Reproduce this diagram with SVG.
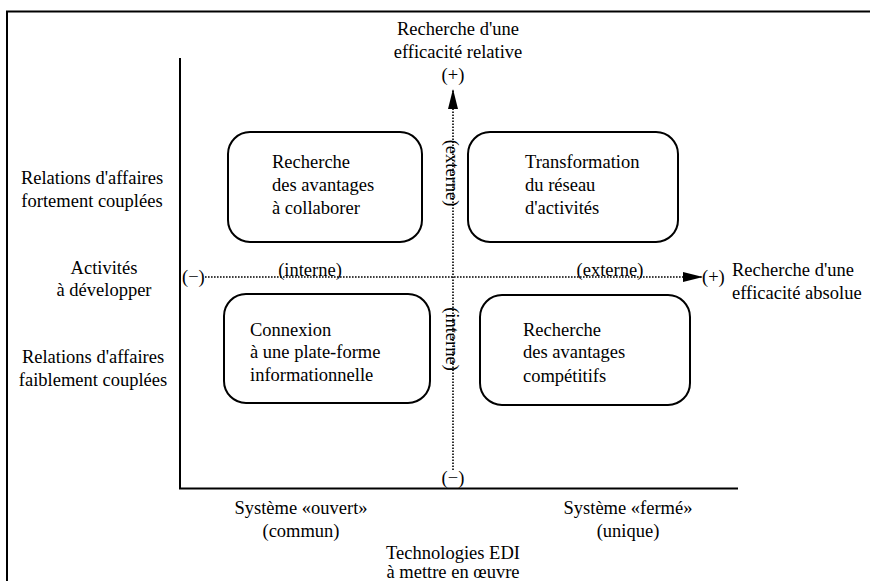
<svg xmlns="http://www.w3.org/2000/svg" width="870" height="581" viewBox="0 0 870 581" font-family="'Liberation Serif', 'DejaVu Serif', 'Times New Roman', serif">
<style>
text{font-family:'Liberation Serif','DejaVu Serif','Times New Roman',serif;font-size:18.5px;fill:#000}
.m{text-anchor:middle}
.box{fill:none;stroke:#000;stroke-width:2}
.axis{stroke:#000;stroke-width:2;fill:none}
.dot{stroke:#000;stroke-width:1.6;stroke-dasharray:1.6 1.4;fill:none}
</style>
<defs>
<marker id="ah" markerWidth="20" markerHeight="10" refX="20" refY="5" orient="auto" markerUnits="userSpaceOnUse">
<path d="M0,0 L20,5 L0,10 Z" fill="#000"/>
</marker>
</defs>
<rect width="870" height="581" fill="#fff"/>
<g id="frame">
<path d="M7,581 V11.5 H870" class="axis"/>
</g>
<g id="axes">
<path d="M180,58 V488.5 H738" class="axis"/>
</g>
<g id="connectors">
<path d="M453,470 V89" class="dot" marker-end="url(#ah)"/>
<path d="M205,277 H703" class="dot" marker-end="url(#ah)"/>
</g>
<g id="axis-labels">
<text class="m" x="458" y="35">Recherche d'une</text>
<text class="m" x="458" y="58">efficacité relative</text>
<text class="m" x="453" y="81">(+)</text>
<text class="m" x="453" y="484">(−)</text>
<text x="182" y="283">(−)</text>
<text x="702" y="283">(+)</text>
<text x="732" y="276">Recherche d'une</text>
<text x="732" y="299">efficacité absolue</text>
<text class="m" x="310" y="276">(interne)</text>
<text class="m" x="610" y="276">(externe)</text>
<text class="m" transform="translate(446,173) rotate(90)">(externe)</text>
<text class="m" transform="translate(446,339) rotate(90)">(interne)</text>
<text class="m" x="92" y="184">Relations d'affaires</text>
<text class="m" x="92" y="207">fortement couplées</text>
<text class="m" x="104" y="274">Activités</text>
<text class="m" x="104" y="296">à développer</text>
<text class="m" x="93" y="363">Relations d'affaires</text>
<text class="m" x="93" y="386">faiblement couplées</text>
<text class="m" x="301" y="514">Système «ouvert»</text>
<text class="m" x="301" y="537">(commun)</text>
<text class="m" x="628" y="514">Système «fermé»</text>
<text class="m" x="628" y="537">(unique)</text>
<text class="m" x="453" y="559">Technologies EDI</text>
<text class="m" x="453" y="578">à mettre en œuvre</text>
</g>
<g id="n1">
<rect class="box" x="228" y="132" width="194" height="110" rx="22"/>
<text x="272" y="168">Recherche</text>
<text x="272" y="191">des avantages</text>
<text x="272" y="214">à collaborer</text>
</g>
<g id="n2">
<rect class="box" x="468" y="132" width="210" height="110" rx="22"/>
<text x="525" y="168">Transformation</text>
<text x="525" y="191">du réseau</text>
<text x="525" y="214">d'activités</text>
</g>
<g id="n3">
<rect class="box" x="224" y="294" width="206" height="109" rx="22"/>
<text x="250" y="336">Connexion</text>
<text x="250" y="358">à une plate-forme</text>
<text x="250" y="381">informationnelle</text>
</g>
<g id="n4">
<rect class="box" x="480" y="295" width="210" height="110" rx="22"/>
<text x="523" y="336">Recherche</text>
<text x="523" y="358">des avantages</text>
<text x="523" y="382">compétitifs</text>
</g>
</svg>
